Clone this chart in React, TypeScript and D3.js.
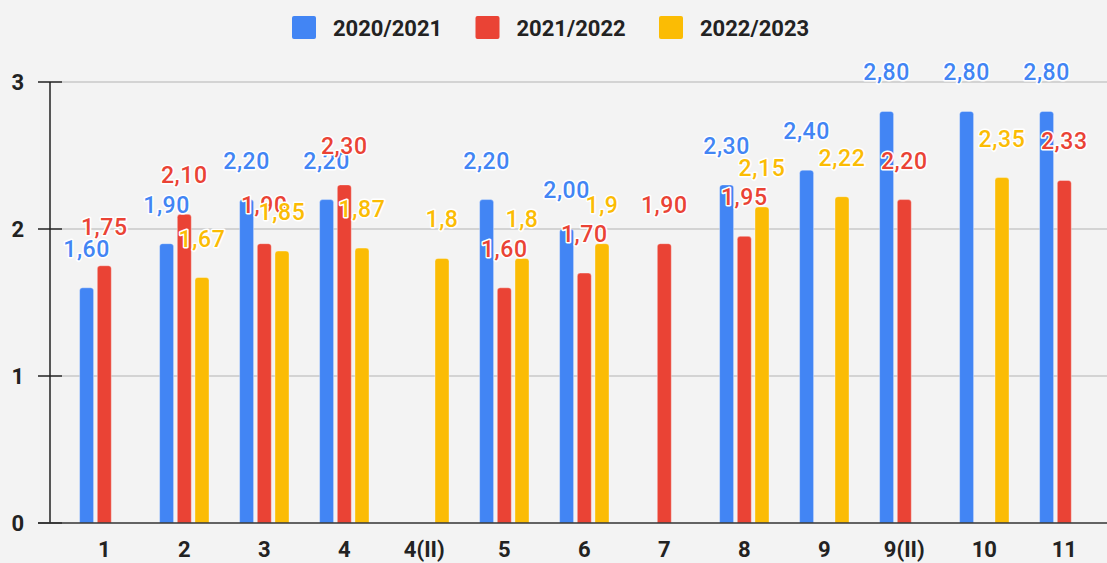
import * as d3 from 'd3';

const categories = ['1', '2', '3', '4', '4(II)', '5', '6', '7', '8', '9', '9(II)', '10', '11'];
const seriesNames = ['2020/2021', '2021/2022', '2022/2023'];
const seriesColors = ['#4285F4', '#EA4335', '#FBBC04'];

const values2021 = [1.6, 1.9, 2.2, 2.2, null, 2.2, 2.0, null, 2.3, 2.4, 2.8, 2.8, 2.8];
const values2122 = [1.75, 2.1, 1.9, 2.3, null, 1.6, 1.7, 1.9, 1.95, null, 2.2, null, 2.33];
const values2223 = [null, 1.67, 1.85, 1.87, 1.8, 1.8, 1.9, null, 2.15, 2.22, null, 2.35, null];

const labels2021 = ['1,60', '1,90', '2,20', '2,20', '', '2,20', '2,00', '', '2,30', '2,40', '2,80', '2,80', '2,80'];
const labels2122 = ['1,75', '2,10', '1,90', '2,30', '', '1,60', '1,70', '1,90', '1,95', '', '2,20', '', '2,33'];
const labels2223 = ['', '1,67', '1,85', '1,87', '1,8', '1,8', '1,9', '', '2,15', '2,22', '', '2,35', ''];

const yTicks = [0, 1, 2, 3];

const W = 1107;
const H = 563;
const FONT = 'Roboto, "Noto Sans", sans-serif';

function topRoundedBar(x: number, y: number, w: number, h: number, r: number) {
  const rr = Math.min(r, h / 2, w / 2);
  return `M${x},${y + h}V${y + rr}Q${x},${y} ${x + rr},${y}H${x + w - rr}Q${x + w},${y} ${x + w},${y + rr}V${y + h}Z`;
}

export default function App() {
  const series = [values2021, values2122, values2223];
  const seriesLabels = [labels2021, labels2122, labels2223];

  const x = d3.scaleBand<string>().domain(categories).range([64.3, 1104.3]).padding(0);
  const inner = d3
    .scaleBand<string>()
    .domain(['0', '1', '2'])
    .range([-24.7, 24.7])
    .paddingInner(0.21);
  const y = d3.scaleLinear().domain([0, 3]).range([523, 82]);

  const bw = inner.bandwidth();

  return (
    <div>
      <style>{'body{margin:0;background:#f3f3f3}'}</style>
      <svg width={W} height={H} style={{ display: 'block', background: '#f3f3f3' }}>
        {/* Legend */}
        <g fontFamily={FONT} fontWeight={700} fontSize={22} fill="#222">
          {seriesNames.map((name, i) => {
            const lx = 292 + i * 183.5;
            return (
              <g key={name}>
                <rect x={lx} y={16} width={24} height={23} rx={2} fill={seriesColors[i]} />
                <text x={lx + 41} y={36}>
                  {name}
                </text>
              </g>
            );
          })}
        </g>

        {/* Gridlines */}
        {yTicks.slice(1).map((t) => (
          <line key={t} x1={62} x2={W} y1={y(t)} y2={y(t)} stroke="#c9c9c9" strokeWidth={1.5} />
        ))}

        {/* Y axis */}
        <line x1={50} x2={50} y1={y(3)} y2={y(0)} stroke="#222" strokeWidth={1.5} />
        {yTicks.map((t) => (
          <g key={t}>
            <line x1={38} x2={62} y1={y(t)} y2={y(t)} stroke="#222" strokeWidth={1.5} />
            <text
              x={24}
              y={y(t)}
              dy="0.36em"
              textAnchor="end"
              fontFamily={FONT}
              fontWeight={700}
              fontSize={22}
              fill="#222"
            >
              {t}
            </text>
          </g>
        ))}

        {/* Bars */}
        {series.map((vals, si) => (
          <g key={si}>
            {categories.map((c, ci) => {
              const v = vals[ci];
              if (v == null) return null;
              const cx = x(c)! + x.bandwidth() / 2 + inner(String(si))!;
              const top = y(v);
              return (
                <path
                  key={c}
                  d={topRoundedBar(cx, top, bw, y(0) - top, 3)}
                  fill={seriesColors[si]}
                  stroke="#ffffff"
                  strokeOpacity={0.35}
                  strokeWidth={1}
                />
              );
            })}
          </g>
        ))}

        {/* Zero baseline */}
        <line x1={38} x2={W} y1={y(0)} y2={y(0)} stroke="#333" strokeWidth={1.5} />

        {/* X labels */}
        {categories.map((c) => (
          <text
            key={c}
            x={x(c)! + x.bandwidth() / 2}
            y={557}
            textAnchor="middle"
            fontFamily={FONT}
            fontWeight={700}
            fontSize={22}
            fill="#222"
          >
            {c}
          </text>
        ))}

        {/* Value labels */}
        {series.map((vals, si) => (
          <g key={si}>
            {categories.map((c, ci) => {
              const v = vals[ci];
              if (v == null) return null;
              const cx = x(c)! + x.bandwidth() / 2 + inner(String(si))! + bw / 2;
              return (
                <text
                  key={c}
                  x={cx}
                  y={y(v) - 31}
                  textAnchor="middle"
                  fontFamily={FONT}
                  fontWeight={500}
                  fontSize={23}
                  letterSpacing={0.6}
                  fill={seriesColors[si]}
                  stroke="#ffffff"
                  strokeWidth={3}
                  strokeLinejoin="round"
                  paintOrder="stroke"
                >
                  {seriesLabels[si][ci]}
                </text>
              );
            })}
          </g>
        ))}
      </svg>
    </div>
  );
}
